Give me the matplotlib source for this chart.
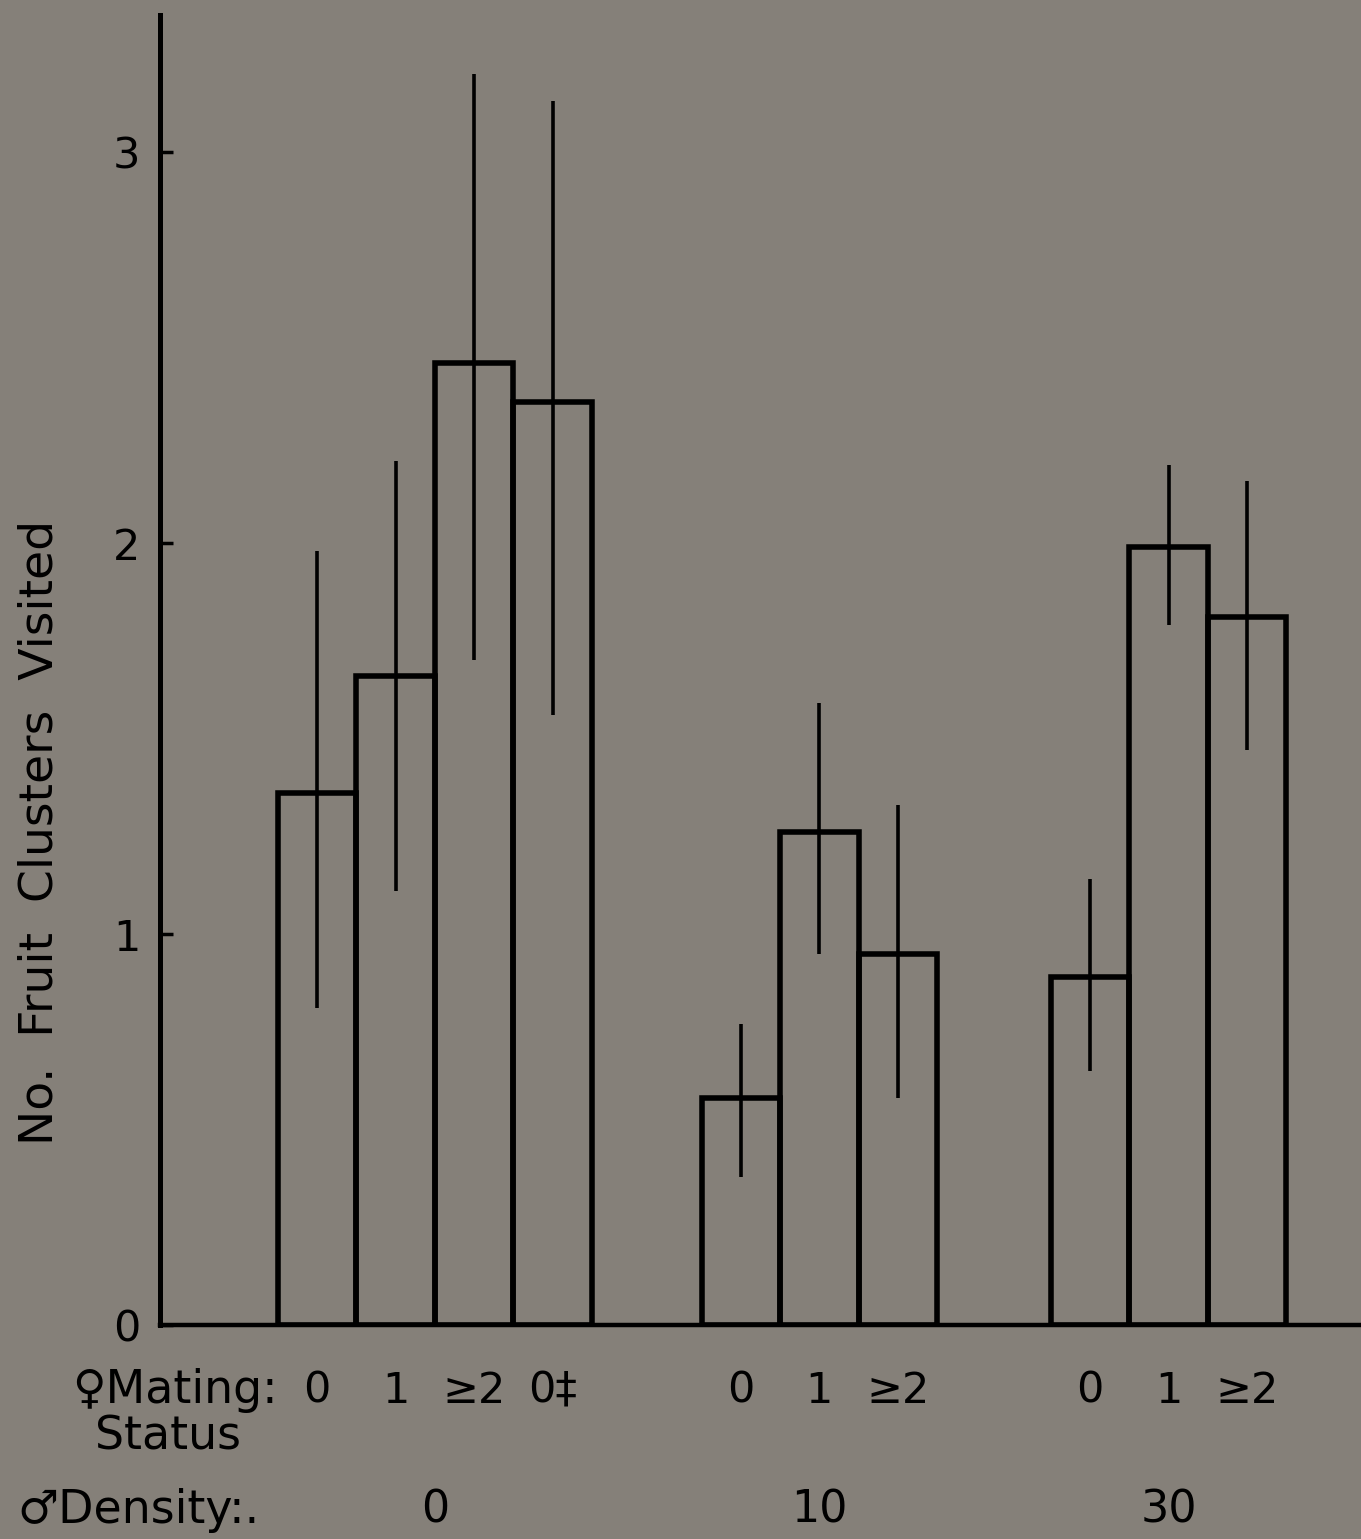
import numpy as np
import matplotlib.pyplot as plt
import matplotlib.transforms as mtransforms

# female mating status within each male density group
density = ["0", "10", "30"]
status_labels = [["0", "1", "≥2", "0‡"],
                 ["0", "1", "≥2"],
                 ["0", "1", "≥2"]]

# mean number of fruit clusters visited
means = [[1.36, 1.66, 2.46, 2.36],
         [0.58, 1.26, 0.95],
         [0.89, 1.99, 1.81]]
# error bar ends
err_low = [[0.81, 1.11, 1.70, 1.56],
           [0.38, 0.95, 0.58],
           [0.65, 1.79, 1.47]]
err_high = [[1.98, 2.21, 3.20, 3.13],
            [0.77, 1.59, 1.33],
            [1.14, 2.20, 2.16]]

bg = '#858079'
plt.rcParams['font.family'] = ['DejaVu Sans']

fig = plt.figure(figsize=(13.61, 15.39), dpi=100, facecolor=bg)
ax = fig.add_axes([0.1176, 0.139, 0.8824, 0.851], facecolor=bg)

# where each group starts on the x axis (one unit = one bar)
group_start = [2.0, 7.4, 11.85]

all_x, all_lab = [], []
for g in range(3):
    x = group_start[g] + np.arange(len(means[g]))
    m = np.array(means[g])
    lo = m - np.array(err_low[g])
    hi = np.array(err_high[g]) - m
    ax.bar(x, m, width=1.0, fill=False, edgecolor='black', linewidth=4, zorder=2)
    ax.errorbar(x, m, yerr=[lo, hi], fmt='none', ecolor='black', elinewidth=2.6,
                capsize=0, zorder=3)
    all_x += list(x)
    all_lab += status_labels[g]

ax.set_xlim(0, 15.3)
ax.set_ylim(0, 3.35)

for s in ['top', 'right']:
    ax.spines[s].set_visible(False)
ax.spines['left'].set_linewidth(3.6)
ax.spines['bottom'].set_linewidth(3.2)

ax.set_yticks([0, 1, 2, 3])
ax.set_yticklabels(['0', '1', '2', '3'])
ax.tick_params(axis='y', direction='in', length=9, width=2.5, pad=14, labelsize=31)
ax.set_xticks(all_x)
ax.set_xticklabels(all_lab)
ax.tick_params(axis='x', length=0, pad=32, labelsize=31)

# y axis title sits lower than the axes centre in the original
fig.text(0.0294, 0.459, 'No.  Fruit  Clusters  Visited', fontsize=34,
         rotation=90, ha='center', va='center')

fig.text(0.053, 0.0968, '♀Mating:', fontsize=33, va='center', ha='left')
fig.text(0.070, 0.0663, 'Status', fontsize=33, va='center', ha='left')
fig.text(0.013, 0.0188, '♂Density:.', fontsize=33, va='center', ha='left')

trans = mtransforms.blended_transform_factory(ax.transData, fig.transFigure)
for g in range(3):
    cx = group_start[g] + (len(means[g]) - 1) / 2
    ax.text(cx, 0.0188, density[g], transform=trans, fontsize=32,
            ha='center', va='center')

fig.savefig('out.png', dpi=100, facecolor=bg)
